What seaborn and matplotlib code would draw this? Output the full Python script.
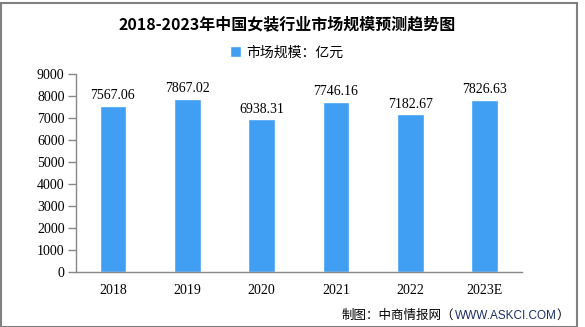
import matplotlib
matplotlib.use("Agg")
import matplotlib.pyplot as plt
import seaborn as sns
import pandas as pd
from matplotlib.patches import Rectangle

years = ["2018", "2019", "2020", "2021", "2022", "2023E"]
values = [7567.06, 7867.02, 6938.31, 7746.16, 7182.67, 7826.63]
yticks = [0, 1000, 2000, 3000, 4000, 5000, 6000, 7000, 8000, 9000]
title = "2018-2023年中国女装行业市场规模预测趋势图"
legend_label = "市场规模：亿元"

sns.set_theme(style="white")
plt.rcParams['font.family'] = ['Noto Sans CJK SC', 'DejaVu Sans']
plt.rcParams['text.color'] = 'black'
plt.rcParams['xtick.color'] = 'black'
plt.rcParams['ytick.color'] = 'black'

df = pd.DataFrame({"year": years, "value": values})

fig = plt.figure(figsize=(5.85, 3.27), dpi=100)
ax = fig.add_axes([0.1294, 0.1682, 0.8923 - 0.1294, 0.7737 - 0.1682])

bar_color = "#409ef3"
sns.barplot(data=df, x="year", y="value", color=bar_color, width=0.36,
            saturation=1, ax=ax, label=legend_label)

ax.set_ylim(0, 9000)
ax.set_xlim(-0.5, len(years) - 0.5)
ax.set_yticks(yticks)
ax.set_yticklabels([str(v) for v in yticks], family='Liberation Serif', fontsize=10)
ax.set_xticks(range(len(years)))
ax.set_xticklabels(years, family='Liberation Serif', fontsize=10)
ax.set_xticks([i - 0.5 for i in range(len(years) + 1)], minor=True)
ax.tick_params(axis='x', which='major', length=0, pad=9, labelcolor='black')
ax.tick_params(axis='x', which='minor', length=5, color='#888888', width=1)
ax.tick_params(axis='y', which='major', length=6, color='#888888', width=1, pad=2,
               left=True, labelcolor='black')
ax.set_xlabel("")
ax.set_ylabel("")

for s in ['top', 'right']:
    ax.spines[s].set_visible(False)
for s in ['left', 'bottom']:
    ax.spines[s].set_color('#888888')
    ax.spines[s].set_linewidth(1)

for i, v in enumerate(values):
    ax.annotate(f"{v:.2f}", xy=(i, v), xytext=(0, 2.5), textcoords='offset points',
                ha='center', va='bottom', fontsize=10, family='Liberation Serif',
                color='black')

fig.text(0.49, 0.925, title, ha='center', va='center', fontsize=11.5,
         fontweight='bold', color='black')

leg = ax.legend(loc='center', bbox_to_anchor=(0.49, 0.84), bbox_transform=fig.transFigure,
                frameon=False, handlelength=0.8, handleheight=0.8, handletextpad=0.4,
                prop={'family': ['Noto Sans CJK SC'], 'size': 10})
for t in leg.get_texts():
    t.set_color('black')

t1 = fig.text(342 / 585, 0.025, "制图：中商情报网（", ha='left', va='baseline',
              fontsize=9, color='black')
t2 = ax.annotate("WWW.ASKCI.COM", xy=(1, 0), xycoords=t1, va='bottom', ha='left',
                 fontsize=8.5, color='#1d2f6b', family='Liberation Sans', annotation_clip=False)
t3 = ax.annotate("）", xy=(1, 0), xycoords=t2, va='bottom', ha='left',
                 fontsize=9, color='black', annotation_clip=False)

fig.patches.append(Rectangle((0.001, 0.0), 576 / 585, 324 / 327, transform=fig.transFigure,
                             fill=False, edgecolor='#808080', linewidth=1.5))

fig.savefig("out.png", dpi=100)
